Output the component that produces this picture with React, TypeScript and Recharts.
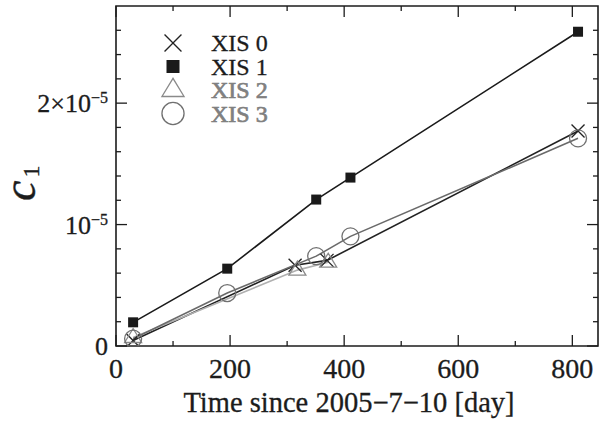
import React from "react";
import { LineChart, Line, XAxis, YAxis, Legend, ReferenceArea } from "recharts";

// c1 values are in units of 1e-5
const xis0Days = [30, 314, 370, 810];
const xis0C1 = [0.045, 0.665, 0.705, 1.77];
const xis1Days = [30, 195, 351, 411, 810];
const xis1C1 = [0.195, 0.637, 1.206, 1.387, 2.588];
const xis2Days = [30, 318, 372];
const xis2C1 = [0.07, 0.625, 0.69];
const xis3Days = [30, 195, 351, 411, 810];
const xis3C1 = [0.06, 0.436, 0.74, 0.903, 1.71];

const xTicks = [0, 100, 200, 300, 400, 500, 600, 700, 800];
const yTicks = [0, 0.2, 0.4, 0.6, 0.8, 1, 1.2, 1.4, 1.6, 1.8, 2, 2.2, 2.4, 2.6];
const yMajorLabels: Record<number, { base: string; exp: string }> = {
  0: { base: "0", exp: "" },
  1: { base: "10", exp: "−5" },
  2: { base: "2×10", exp: "−5" },
};

const W = 604;
const H = 421;
const PLOT_LEFT = 116;
const PLOT_RIGHT = 598;
const PLOT_TOP = 6;
const PLOT_BOTTOM = 346;
const FONT = "Liberation Serif, Tinos, Times New Roman, Times, serif";
const INK = "#1c1c1c";

type Kind = "cross" | "square" | "triangle" | "circle";

const series = [
  { name: "XIS 0", days: xis0Days, c1: xis0C1, kind: "cross" as Kind, line: "#222", text: INK },
  { name: "XIS 1", days: xis1Days, c1: xis1C1, kind: "square" as Kind, line: "#1a1a1a", text: INK },
  { name: "XIS 2", days: xis2Days, c1: xis2C1, kind: "triangle" as Kind, line: "#b0b0b0", text: "#808080" },
  { name: "XIS 3", days: xis3Days, c1: xis3C1, kind: "circle" as Kind, line: "#6a6a6a", text: "#808080" },
];

function Marker({ kind, cx, cy, s = 1 }: { kind: Kind; cx: number; cy: number; s?: number }) {
  if (kind === "cross") {
    const h = 6.5 * s;
    return (
      <g stroke="#222" strokeWidth={1.3}>
        <line x1={cx - h} y1={cy - h} x2={cx + h} y2={cy + h} />
        <line x1={cx - h} y1={cy + h} x2={cx + h} y2={cy - h} />
      </g>
    );
  }
  if (kind === "square") {
    const h = 5 * s;
    return <rect x={cx - h} y={cy - h} width={2 * h} height={2 * h} fill="#1a1a1a" />;
  }
  if (kind === "triangle") {
    const w = 8.5 * s;
    const pts = `${cx},${cy - 9 * s} ${cx - w},${cy + 5 * s} ${cx + w},${cy + 5 * s}`;
    return <polygon points={pts} fill="none" stroke="#8a8a8a" strokeWidth={1.3} />;
  }
  return <circle cx={cx} cy={cy} r={8.5 * s} fill="none" stroke="#707070" strokeWidth={1.3} />;
}

const XTick = (props: any) => {
  const { x, payload } = props;
  const v = payload.value as number;
  const major = v % 200 === 0;
  const len = major ? 11 : 5;
  return (
    <g>
      <line x1={x} x2={x} y1={PLOT_BOTTOM} y2={PLOT_BOTTOM - len} stroke={INK} strokeWidth={1.3} />
      <line x1={x} x2={x} y1={PLOT_TOP} y2={PLOT_TOP + len} stroke={INK} strokeWidth={1.3} />
      {major && (
        <text x={x} y={378} textAnchor="middle" fontSize={28} style={{ fontFamily: FONT }} fill={INK} stroke={INK} strokeWidth={0.3}>
          {v}
        </text>
      )}
    </g>
  );
};

const YTick = (props: any) => {
  const { y, payload } = props;
  const v = payload.value as number;
  const major = Math.abs(v - Math.round(v)) < 1e-9;
  const len = major ? 11 : 5;
  const lab = major ? yMajorLabels[Math.round(v)] : null;
  return (
    <g>
      <line x1={PLOT_LEFT} x2={PLOT_LEFT + len} y1={y} y2={y} stroke={INK} strokeWidth={1.3} />
      <line x1={PLOT_RIGHT} x2={PLOT_RIGHT - len} y1={y} y2={y} stroke={INK} strokeWidth={1.3} />
      {lab && (
        <text x={108} y={y + 9} textAnchor="end" fontSize={26} style={{ fontFamily: FONT }} fill={INK} stroke={INK} strokeWidth={0.3}>
          <tspan>{lab.base}</tspan>
          {lab.exp && (
            <tspan fontSize={16} dy={-9}>
              {lab.exp}
            </tspan>
          )}
        </text>
      )}
    </g>
  );
};

const LegendBox = () => (
  <svg width={300} height={130} style={{ display: "block" }}>
    {series.map((s, i) => {
      const cy = 43 + i * 23.5;
      return (
        <g key={s.name}>
          <Marker kind={s.kind} cx={173} cy={cy} s={1.3} />
          <text
            x={211}
            y={cy + 8}
            fontSize={24}
            style={{ fontFamily: FONT }}
            fill={s.text}
            stroke={s.text}
            strokeWidth={s.text === INK ? 0.3 : 0.7}
          >
            {s.name}
          </text>
        </g>
      );
    })}
  </svg>
);

export default function App() {
  return (
    <div style={{ position: "absolute", left: 0, top: 0, width: W, height: H, background: "#fff" }}>
      <LineChart width={W} height={H} margin={{ top: PLOT_TOP, right: W - PLOT_RIGHT, bottom: 0, left: 0 }}>
        <XAxis
          type="number"
          dataKey="x"
          domain={[0, 845]}
          ticks={xTicks}
          interval={0}
          height={H - PLOT_BOTTOM}
          axisLine={false}
          tickLine={false}
          tick={XTick}
          allowDataOverflow
          label={{
            content: () => (
              <text x={349} y={412} textAnchor="middle" fontSize={28.5} style={{ fontFamily: FONT }} fill={INK} stroke={INK} strokeWidth={0.3}>
                Time since 2005−7−10 [day]
              </text>
            ),
          }}
        />
        <YAxis
          type="number"
          dataKey="y"
          domain={[0, 2.8]}
          ticks={yTicks}
          interval={0}
          width={PLOT_LEFT}
          axisLine={false}
          tickLine={false}
          tick={YTick}
          allowDataOverflow
          label={{
            content: () => (
              <text transform="translate(35,201) rotate(-90)" style={{ fontFamily: FONT }} fill={INK} stroke={INK} strokeWidth={0.4}>
                <tspan fontSize={46} fontStyle="italic">c</tspan>
                <tspan fontSize={24} dx={3} dy={4}>1</tspan>
              </text>
            ),
          }}
        />
        <ReferenceArea x1={0} x2={845} y1={0} y2={2.8} fill="none" stroke={INK} strokeWidth={1.6} ifOverflow="visible" />
        {series.map((s) => (
          <Line
            key={s.name}
            data={s.days.map((d, i) => ({ x: d, y: s.c1[i] }))}
            dataKey="y"
            name={s.name}
            stroke={s.line}
            strokeWidth={1.6}
            isAnimationActive={false}
            activeDot={false}
            dot={(p: any) => <Marker key={`${s.name}-${p.index}`} kind={s.kind} cx={p.cx} cy={p.cy} />}
          />
        ))}
        <Legend
          layout="vertical"
          align="center"
          verticalAlign="middle"
          wrapperStyle={{ left: 0, top: 0, width: 300, height: 130 }}
          content={() => <LegendBox />}
        />
      </LineChart>
    </div>
  );
}
